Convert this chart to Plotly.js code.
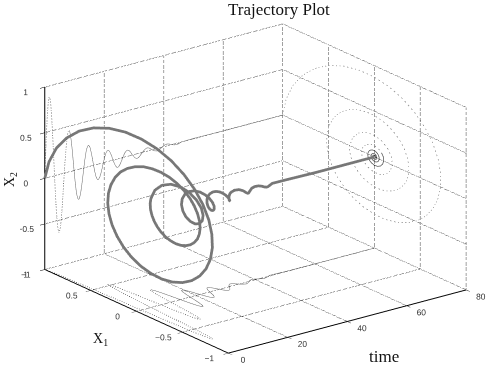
<!DOCTYPE html>
<html><head><meta charset="utf-8">
<script src="https://cdn.plot.ly/plotly-3.0.1.min.js"></script>
<style>html,body{margin:0;padding:0;background:#fff}#c{width:491px;height:375px}</style></head>
<body><div id="c"></div>
<script>
const time = [0,.205,.41,.615,.82,1.025,1.23,1.435,1.64,1.845,2.05,2.255,2.46,2.665,2.87,3.075,3.28,3.485,3.69,3.895,4.1,4.305,4.51,4.715,4.92,5.125,5.33,5.535,5.74,5.945,6.15,6.355,6.56,6.765,6.97,7.175,7.38,7.585,7.79,7.995,8.2,8.405,8.61,8.815,9.02,9.225,9.43,9.635,9.84,10.045,10.25,10.455,10.66,10.865,11.07,11.275,11.48,11.685,11.89,12.095,12.3,12.505,12.71,12.915,13.12,13.53,13.94,14.35,14.76,15.17,15.58,15.99,16.4,16.81,17.22,17.63,18.04,18.45,18.86,19.27,19.68,20.09,20.5,20.91,21.32,21.73,22.14,22.55,22.96,23.37,23.78,24.19,24.6,25.01,25.42,25.83,26.24,26.65,27.06,27.47,27.88,28.29,28.7,29.11,29.52,29.93,30.34,30.75,31.16,31.57,31.98,32.39,32.8,33.62,34.44,35.26,36.08,36.9,37.72,38.54,39.36,40.18,41,41.82,42.64,43.46,44.28,45.1,45.92,50,60,70,80];
const x1 = [1,.961,.887,.781,.651,.502,.339,.169,0,-.162,-.312,-.444,-.553,-.637,-.694,-.721,-.72,-.692,-.638,-.563,-.469,-.361,-.244,-.122,0,.117,.225,.32,.398,.459,.5,.52,.519,.498,.46,.406,.338,.26,.176,.088,0,-.084,-.162,-.23,-.287,-.33,-.359,-.374,-.374,-.359,-.332,-.292,-.243,-.187,-.127,-.063,0,.061,.117,.166,.206,.238,.26,.27,.269,.238,.175,.091,0,-.084,-.148,-.187,-.194,-.172,-.127,-.066,0,.061,.107,.135,.14,.124,.091,.047,0,-.044,-.078,-.098,-.101,-.089,-.066,-.034,0,.032,.056,.07,.073,.064,.047,.025,0,-.023,-.04,-.05,-.052,-.046,-.034,-.018,0,.016,.029,.036,.038,.024,0,-.018,-.027,-.018,0,.013,.02,.013,0,-.01,-.015,-.01,0,.007,.01,.003,0,0,0];
const x2 = [0,.197,.379,.538,.671,.772,.841,.875,.874,.841,.776,.683,.57,.439,.296,.148,0,-.142,-.273,-.388,-.484,-.557,-.606,-.631,-.629,-.605,-.559,-.492,-.41,-.316,-.213,-.106,0,.102,.196,.28,.348,.401,.437,.453,.453,.436,.402,.354,.296,.227,.153,.076,0,-.074,-.142,-.201,-.251,-.288,-.315,-.328,-.327,-.314,-.29,-.255,-.213,-.164,-.111,-.055,0,.102,.181,.227,.236,.209,.153,.08,0,-.073,-.13,-.164,-.17,-.15,-.111,-.058,0,.053,.094,.118,.123,.109,.08,.042,0,-.039,-.07,-.088,-.092,-.081,-.059,-.031,0,.029,.052,.065,.068,.06,.044,.023,0,-.021,-.038,-.048,-.05,-.044,-.032,-.017,0,.025,.036,.025,0,-.019,-.027,-.019,0,.014,.02,.014,0,-.01,-.015,-.01,0,.004,0,0,0];
const timeTicks = [0,20,40,60,80];
const x1Ticks = [-1,-.5,0,.5,1];
const x2Ticks = [-1,-.5,0,.5,1];
const tMax = 80, x1Wall = 1, floorZ = -1;
const wallSplit = 40, floorSplit = 64, backSplit = 86;

function seg(xs,ys,zs,color,width,dash){return {type:'scatter3d',mode:'lines',x:xs,y:ys,z:zs,line:{color:color,width:width,dash:dash||'solid'},hoverinfo:'skip',showlegend:false};}
function part(xs,ys,zs,a,b,color,width,dash){return seg(xs.slice(a,b),ys.slice(a,b),zs.slice(a,b),color,width,dash);}
const grid=[];
const gc='#000', gw=1.5;
timeTicks.forEach(t=>grid.push(seg([t,t],[-1,1],[floorZ,floorZ],gc,gw,'dot')));
x1Ticks.forEach(v=>grid.push(seg([0,tMax],[v,v],[floorZ,floorZ],gc,gw,'dot')));
timeTicks.forEach(t=>grid.push(seg([t,t],[x1Wall,x1Wall],[-1,1],gc,gw,'dot')));
x2Ticks.forEach(v=>grid.push(seg([0,tMax],[x1Wall,x1Wall],[v,v],gc,gw,'dot')));
x1Ticks.forEach(v=>grid.push(seg([tMax,tMax],[v,v],[-1,1],gc,gw,'dot')));
x2Ticks.forEach(v=>grid.push(seg([tMax,tMax],[-1,1],[v,v],gc,gw,'dot')));

const wallX = time.map(()=>x1Wall), floorZs = time.map(()=>floorZ), backT = time.map(()=>tMax);
const traces = grid.concat([
  part(time,wallX,x2,0,wallSplit+1,'#444',1.5,'dot'),
  part(time,wallX,x2,wallSplit,undefined,'#666',1),
  part(time,x1,floorZs,0,floorSplit+1,'#444',1.5,'dot'),
  part(time,x1,floorZs,floorSplit,undefined,'#666',1),
  part(backT,x1,x2,0,backSplit+1,'#777',1.2,'dot'),
  part(backT,x1,x2,backSplit,undefined,'#555',1.5),
  seg(time,x1,x2,'#777',5.5)
]);
function ax(vals,range){return {range:range,tickvals:vals,tickangle:0,ticks:'outside',ticklen:6,tickcolor:'#000',tickwidth:1,showgrid:false,zeroline:false,showline:true,linecolor:'#000',linewidth:2,showbackground:false,showspikes:false,title:{text:''},tickfont:{family:'Liberation Sans',size:10,color:'#333'}};}
const S=1.605;
const layout={
  width:491,height:375,margin:{l:0,r:0,t:0,b:0},paper_bgcolor:'#fff',showlegend:false,hovermode:false,
  scene:{domain:{x:[.04,1],y:[0,.995]},
    xaxis:ax(timeTicks,[0,80]),yaxis:ax(x1Ticks,[-1,1]),zaxis:ax(x2Ticks,[-1,1]),
    aspectmode:'manual',aspectratio:{x:1*S,y:1.01*S,z:.65*S},
    camera:{eye:{x:-.569*2,y:-.745*2,z:.348*2},up:{x:0,y:0,z:1},center:{x:0,y:0,z:0},projection:{type:'orthographic'}}},
  annotations:[
   {xref:'paper',yref:'paper',xanchor:'center',yanchor:'middle',x:279/491,y:1-10/375,text:'Trajectory Plot',showarrow:false,font:{family:'Liberation Serif',size:17,color:'#111'}},
   {xref:'paper',yref:'paper',xanchor:'center',yanchor:'middle',x:384/491,y:1-356/375,text:'time',showarrow:false,font:{family:'Liberation Serif',size:17,color:'#111'}},
   {xref:'paper',yref:'paper',xanchor:'center',yanchor:'middle',x:100/491,y:1-339/375,text:'X<sub>1</sub>',showarrow:false,font:{family:'Liberation Serif',size:14,color:'#111'}},
   {xref:'paper',yref:'paper',xanchor:'center',yanchor:'middle',x:10/491,y:1-180/375,text:'X<sub>2</sub>',textangle:-90,showarrow:false,font:{family:'Liberation Serif',size:14,color:'#111'}}
  ]
};
Plotly.newPlot('c',traces,layout,{displayModeBar:false});
</script></body></html>
